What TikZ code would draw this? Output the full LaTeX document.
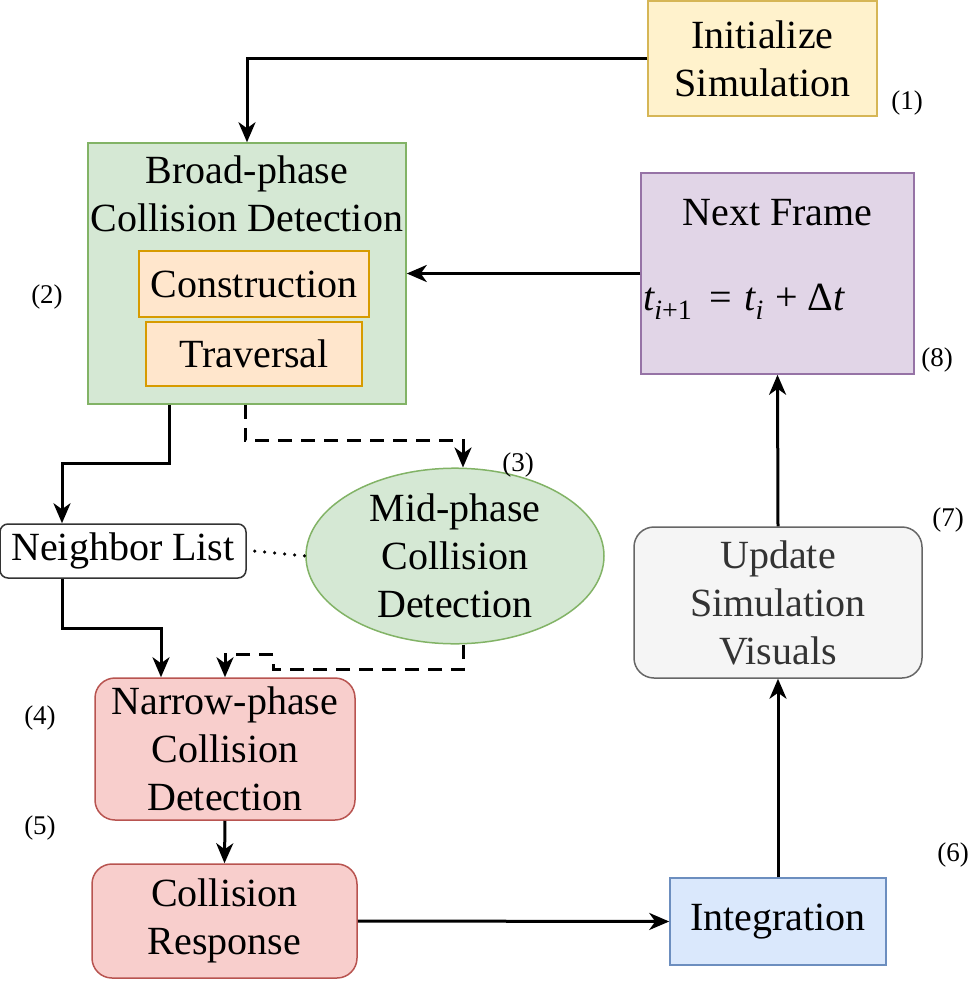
\documentclass[tikz,border=0pt]{standalone}
\usepackage{fontspec}
\newfontfamily\tnr{Liberation Serif}
\usetikzlibrary{arrows.meta,shapes.geometric,calc}
\definecolor{yellowF}{HTML}{FFF2CC}\definecolor{yellowD}{HTML}{D6B656}
\definecolor{greenF}{HTML}{D5E8D4}\definecolor{greenD}{HTML}{82B366}
\definecolor{orangeF}{HTML}{FFE6CC}\definecolor{orangeD}{HTML}{D79B00}
\definecolor{purpleF}{HTML}{E1D5E7}\definecolor{purpleD}{HTML}{9673A6}
\definecolor{redF}{HTML}{F8CECC}\definecolor{redD}{HTML}{B85450}
\definecolor{blueF}{HTML}{DAE8FC}\definecolor{blueD}{HTML}{6C8EBF}
\definecolor{greyF}{HTML}{F5F5F5}\definecolor{greyD}{HTML}{666666}\definecolor{greyT}{HTML}{333333}
\tikzset{
  box/.style={draw, line width=1.5pt, inner sep=0pt, align=center, font=\tnr\fontsize{40}{48}\selectfont},
  txt/.style={inner sep=0pt, align=center, font=\tnr\fontsize{40}{48}\selectfont},
  lbl/.style={inner sep=0pt, font=\tnr\fontsize{27}{30}\selectfont},
  arr/.style={line width=3pt, -{Stealth[length=20pt,width=17pt,inset=6pt]}},
  darr/.style={arr, dash pattern=on 14pt off 9pt},
}
\begin{document}
\begin{tikzpicture}[x=1pt,y=-1pt]
\useasboundingbox (0,0) rectangle (969,983);
% nodes
\node[box, fill=yellowF, draw=yellowD, minimum width=229pt, minimum height=115pt] (init) at (762.5,58.5) {Initialize\\Simulation};
\node[box, fill=greenF, draw=greenD, minimum width=318pt, minimum height=261pt] (broad) at (247,273.5) {};
\node[txt] (broadt) at (247,194) {Broad-phase\\Collision Detection};
\node[box, fill=orangeF, draw=orangeD, minimum width=230pt, minimum height=66pt] (cons) at (254,284) {Construction};
\node[box, fill=orangeF, draw=orangeD, minimum width=216pt, minimum height=64pt] (trav) at (254,354) {Traversal};
\node[box, fill=purpleF, draw=purpleD, minimum width=273pt, minimum height=201pt] (next) at (777.5,273.5) {};
\node[txt] (nextt) at (777.5,213) {Next Frame};
\node[txt, anchor=west] (form) at (643,302) {{\itshape t}\raisebox{-9pt}{\fontsize{28}{28}\selectfont{\itshape i}+1}\hspace{18pt}=\hspace{12pt}{\itshape t}\raisebox{-9pt}{\fontsize{28}{28}\selectfont\itshape i}\hspace{12pt}+\hspace{10pt}Δ{\itshape t}};
\node[box, fill=white, draw=black!80, rounded corners=8pt, minimum width=246pt, minimum height=54pt] (neigh) at (123,551) {Neighbor List};
\node[box, ellipse, fill=greenF, draw=greenD, minimum width=298pt, minimum height=164pt] (ell) at (455,556) {Mid-phase\\Collision\\Detection};
\node[box, fill=redF, draw=redD, rounded corners=20pt, minimum width=260pt, minimum height=142pt] (narrow) at (225,749) {Narrow-phase\\Collision\\Detection};
\node[box, fill=redF, draw=redD, rounded corners=20pt, minimum width=265pt, minimum height=114pt] (resp) at (224.5,921) {Collision\\Response};
\node[box, fill=blueF, draw=blueD, minimum width=216pt, minimum height=87pt] (integ) at (778,921.5) {Integration};
\node[box, fill=greyF, draw=greyD, text=greyT, rounded corners=20pt, minimum width=288pt, minimum height=151pt] (upd) at (778,602.5) {Update\\Simulation\\Visuals};
% labels
\node[lbl] (l1) at (907,103) {(1)};
\node[lbl] (l2) at (47,297) {(2)};
\node[lbl] (l3) at (518,465) {(3)};
\node[lbl] (l4) at (40,718) {(4)};
\node[lbl] (l5) at (40,828) {(5)};
\node[lbl] (l6) at (953,855) {(6)};
\node[lbl] (l7) at (948,520) {(7)};
\node[lbl] (l8) at (937,360) {(8)};
% connectors
\draw[arr] (init.west) -| (broad.north);
\draw[arr] (next.west) -- (broad.east);
\draw[arr] ([xshift=82pt]broad.south west) -- ++(0,59) -| ([xshift=-61pt]neigh.north);
\draw[darr] ([xshift=-2pt]broad.south) -- ++(0,36) -| ([xshift=8pt]ell.north);
\draw[line width=3.5pt, dash pattern=on 0pt off 10pt, line cap=round] ([xshift=8pt]neigh.east) -- (ell.west);
\draw[arr] ([xshift=-61pt]neigh.south) -- ++(0,50) -| ([xshift=-64pt]narrow.north);
\draw[darr] ([xshift=8pt]ell.south) -- ++(0,25) -- ++(-190,0) -- ++(0,-15) -| (narrow.north);
\draw[arr] (narrow.south) -- (resp.north);
\draw[arr] (resp.east) -- (integ.west);
\draw[arr] (integ.north) -- (upd.south);
\draw[arr] (upd.north) -- (next.south);
\end{tikzpicture}
\end{document}
